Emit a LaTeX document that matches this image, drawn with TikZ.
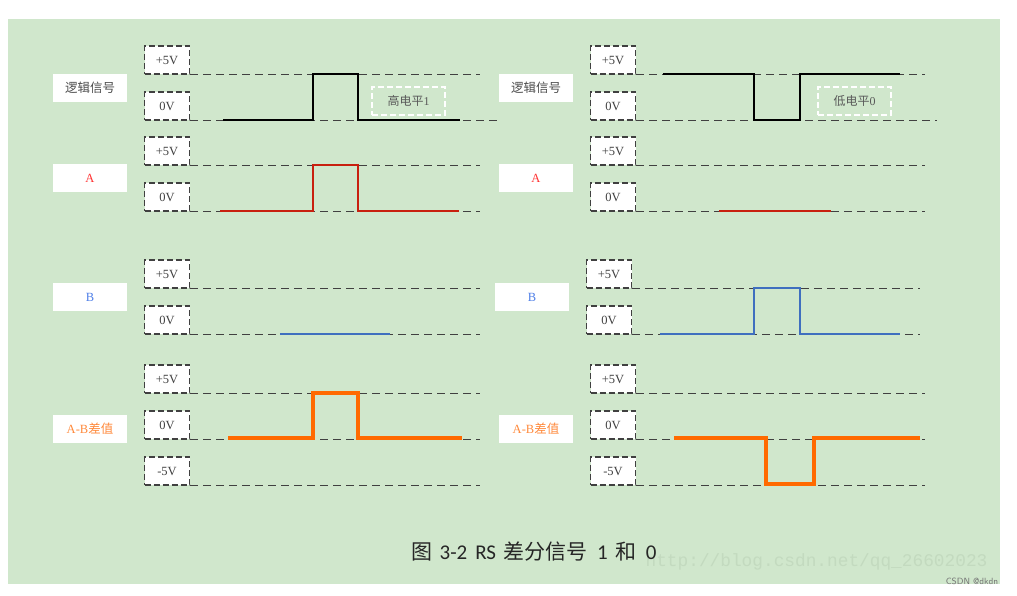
\documentclass[tikz,border=0pt]{standalone}
\usepackage{fontspec}
\setmainfont{Liberation Serif}
\newfontfamily\cjk{Noto Sans CJK SC}
\newfontfamily\wmfont{Liberation Mono}
\newfontfamily\capfont{Carlito}
\usetikzlibrary{calc}
\definecolor{bgGreen}{HTML}{D0E7CC}
\definecolor{lineGrey}{HTML}{404040}
\definecolor{sigOrange}{HTML}{FF6A00}
\definecolor{sigBlue}{HTML}{3F6FBF}
\definecolor{sigRed}{HTML}{C8200F}
\definecolor{tagOrange}{HTML}{FF8A3C}
\definecolor{tagBlue}{HTML}{4F7FE8}
\definecolor{wmGrey}{HTML}{C3DABF}
\tikzset{
  voltbox/.style={draw=lineGrey, fill=white, dash pattern=on 6pt off 3pt, line width=1.5pt, minimum width=45pt, minimum height=28pt, inner sep=0pt, text=black!75, font=\fontsize{12.5}{12.5}\selectfont},
  sigtag/.style={fill=white, minimum width=74pt, minimum height=28pt, inner sep=0pt, font=\fontsize{12.5}{12.5}\selectfont},
  leveltag/.style={draw=white, dash pattern=on 6pt off 3pt, line width=1.2pt, minimum width=73pt, minimum height=28pt, inner sep=0pt, text=black!65, font=\fontsize{12}{12}\selectfont},
  level/.style={draw=lineGrey, dash pattern=on 8pt off 5pt, line width=1.2pt},
  trace/.style={line width=2pt, line join=miter}
}
\begin{document}
\begin{tikzpicture}[x=1pt,y=-1pt]
\useasboundingbox (0,0) rectangle (1017,595);
\fill[bgGreen] (8,19) rectangle (1000,584);

% dashed levels go under the boxes, so name the boxes first
\foreach \n/\x/\y/\t in {la/167/60/+5V, lb/167/106/0V, lc/167/151/+5V, ld/167/197/0V, le/167/274/+5V, lf/167/320/0V, lg/167/379/+5V, lh/167/425/0V, li/167/471/-5V,
  ra/613/60/+5V, rb/613/106/0V, rc/613/151/+5V, rd/613/197/0V, re/609/274/+5V, rf/609/320/0V, rg/613/379/+5V, rh/613/425/0V, ri/613/471/-5V}
\node[voltbox] (\n) at (\x,\y) {\t};

\foreach \n/\xe in {la/480, lb/501, lc/480, ld/480, le/480, lf/480, lg/480, lh/480, li/480,
  ra/925, rb/937, rc/925, rd/925, re/920, rf/920, rg/925, rh/925, ri/925}
\draw[level] (\n.south east) -- (\n.south east -| {\xe,0}) coordinate (\n end);

% signal names
\node[sigtag, text=black!70] (tagLa) at (90,88) {\cjk 逻辑信号};
\node[sigtag, text=red!80] (tagLb) at (90,178) {A};
\node[sigtag, text=tagBlue] (tagLc) at (90,297) {B};
\node[sigtag, text=tagOrange] (tagLd) at (90,429) {A-B\cjk 差值};
\node[sigtag, text=black!70] (tagRa) at (536,88) {\cjk 逻辑信号};
\node[sigtag, text=red!80] (tagRb) at (536,178) {A};
\node[sigtag, text=tagBlue] (tagRc) at (532,297) {B};
\node[sigtag, text=tagOrange] (tagRd) at (536,429) {A-B\cjk 差值};

\node[leveltag] (highTag) at (408.5,101) {\cjk 高电平\rmfamily 1};
\node[leveltag] (lowTag) at (854.5,101) {\cjk 低电平\rmfamily 0};

% left traces
\draw[trace, black] (223,120) -- (313,120) -- (313,74) -- (358,74) -- (358,120) -- (460,120);
\draw[trace, sigRed] (220,211) -- (313,211) -- (313,165) -- (358,165) -- (358,211) -- (459,211);
\draw[trace, sigBlue, line width=1.2pt] (280,334) -- (390,334);
\draw[trace, sigOrange, line width=3.5pt] (228,438) -- (313,438) -- (313,393) -- (358,393) -- (358,438) -- (462,438);

% right traces
\draw[trace, black] (663,74) -- (754,74) -- (754,120) -- (800,120) -- (800,74) -- (900,74);
\draw[trace, sigRed, line width=1.2pt] (719,211) -- (831,211);
\draw[trace, sigBlue] (660,334) -- (754,334) -- (754,288) -- (800,288) -- (800,334) -- (900,334);
\draw[trace, sigOrange, line width=3.5pt] (674,438) -- (766,438) -- (766,484) -- (814,484) -- (814,438) -- (920,438);

\node[text=wmGrey, font=\wmfont\fontsize{17.8}{17.8}\selectfont, inner sep=0pt] (wmark) at (816.5,562) {http://blog.csdn.net/qq\_26602023};
\node[text=black!85, font=\fontsize{21}{21}\selectfont, inner sep=0pt] (figCaption) at (534,552) {\cjk 图\hspace{7pt}\capfont 3-2\hspace{8pt}RS\hspace{7pt}\cjk 差分信号\hspace{10pt}\capfont 1\hspace{8pt}\cjk 和\hspace{9pt}\capfont 0};
\node[text=black!55, font=\sffamily\fontsize{9}{9}\selectfont, inner sep=0pt] (csdn) at (972,581) {CSDN @dkdn};
\end{tikzpicture}
\end{document}
